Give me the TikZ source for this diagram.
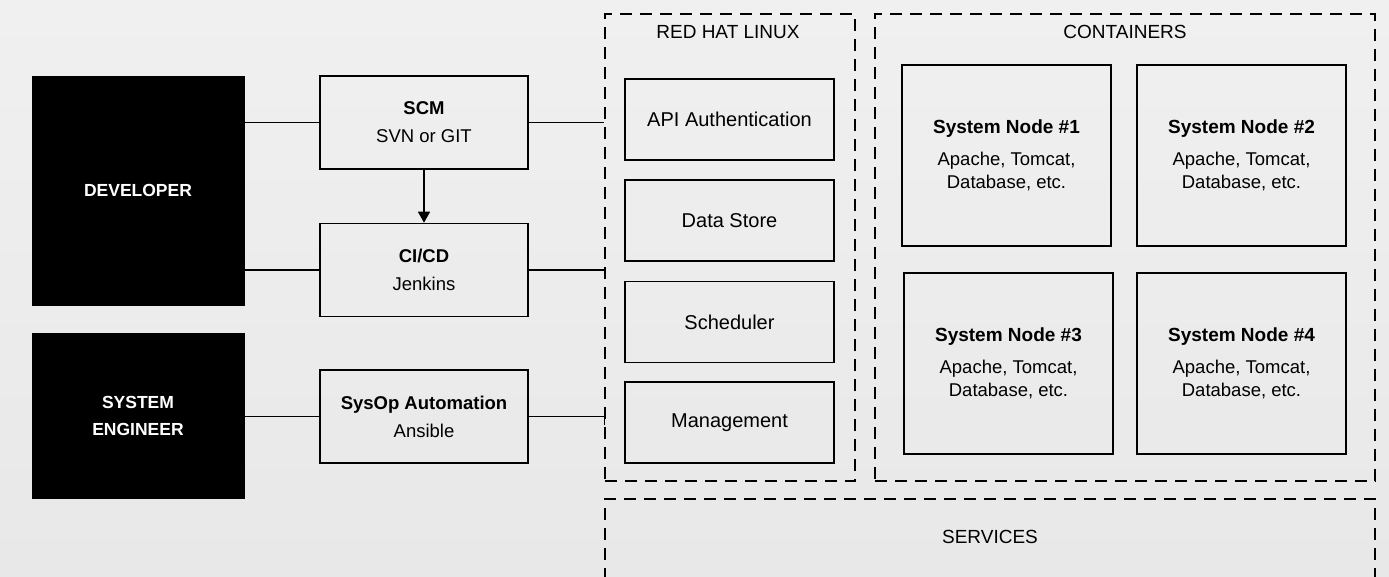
\documentclass[tikz,border=0pt]{standalone}
\usepackage{fontspec}
\setmainfont{Liberation Sans}
\usetikzlibrary{arrows.meta}
\definecolor{bgtop}{RGB}{240,240,240}
\definecolor{bgbot}{RGB}{232,232,232}
\tikzset{
  blackbox/.style={draw=black, fill=black, text=white, font=\fontsize{17.5}{27}\selectfont\bfseries, align=center, inner sep=0pt},
  toolbox/.style={draw=black, line width=1.6pt, align=center, inner sep=0pt, minimum width=208pt, minimum height=93pt, font=\fontsize{18.5}{28}\selectfont},
  svcbox/.style={draw=black, line width=1.6pt, align=center, inner sep=0pt, minimum width=209pt, minimum height=81pt, font=\fontsize{20}{23}\selectfont},
  nodebox/.style={draw=black, line width=1.6pt, align=center, inner sep=0pt, minimum width=209pt, minimum height=181pt, font=\fontsize{18.5}{23}\selectfont},
  ntitle/.style={},
  groupbox/.style={draw=black, line width=1.6pt, dash pattern=on 12pt off 8pt},
  grouplabel/.style={font=\fontsize{19}{22}\selectfont, inner sep=0pt},
  link/.style={draw=black, line width=1.3pt},
  flow/.style={link, -{Triangle[length=11pt,width=12pt]}}
}
\newcommand{\sntitle}[1]{{\fontsize{19}{23}\selectfont\bfseries #1}}
\begin{document}
\begin{tikzpicture}[x=1pt, y=-1pt]
\useasboundingbox (0,0) rectangle (1389,576);
\shade[top color=bgtop, bottom color=bgbot] (0,0) rectangle (1389,576);

% left actors
\node[blackbox, minimum width=212pt, minimum height=229pt] (dev) at (138,190.5) {DEVELOPER};
\node[blackbox, minimum width=212pt, minimum height=165pt] (eng) at (138,415.5) {SYSTEM\\ENGINEER};

% tools
\node[toolbox] (scm) at (424,122.5) {\textbf{SCM}\\SVN or GIT};
\node[toolbox] (cicd) at (424,270) {\textbf{CI/CD}\\Jenkins};
\node[toolbox] (sysop) at (424,416.5) {\textbf{SysOp Automation}\\Ansible};

% group boxes
\node[groupbox, minimum width=250pt, minimum height=467pt, inner sep=0pt] (rhl) at (730,247.5) {};
\node[groupbox, minimum width=500pt, minimum height=467pt, inner sep=0pt] (cont) at (1125,247.5) {};
\draw[groupbox] (605,620) -- (605,499) -- (1375,499) -- (1375,620);
\coordinate (svc) at (990,537);
\node[grouplabel] (rhllab) at (728,32) {RED HAT LINUX};
\node[grouplabel] (contlab) at (1125,32) {CONTAINERS};
\node[grouplabel] (svclab) at (svc) {SERVICES};

% red hat services
\node[svcbox] (api) at (729.5,119.5) {API Authentication};
\node[svcbox] (data) at (729.5,220.5) {Data Store};
\node[svcbox] (sched) at (729.5,322) {Scheduler};
\node[svcbox] (mgmt) at (729.5,422.5) {Management};

% system nodes
\node[nodebox] (sn1) at (1006.5,155.5) {\sntitle{System Node \#1}\\[9pt]Apache, Tomcat,\\Database, etc.};
\node[nodebox] (sn2) at (1241.5,155.5) {\sntitle{System Node \#2}\\[9pt]Apache, Tomcat,\\Database, etc.};
\node[nodebox] (sn3) at (1008.5,363.5) {\sntitle{System Node \#3}\\[9pt]Apache, Tomcat,\\Database, etc.};
\node[nodebox] (sn4) at (1241.5,363.5) {\sntitle{System Node \#4}\\[9pt]Apache, Tomcat,\\Database, etc.};

% connectors
\draw[link] (dev.east |- scm.west) -- (scm.west);
\draw[link] (dev.east |- cicd.west) -- (cicd.west);
\draw[link] (eng.east |- sysop.west) -- (sysop.west);
\draw[link] (scm.east) -- (scm.east -| rhl.west);
\draw[link] (cicd.east) -- (cicd.east -| rhl.west);
\draw[link] (sysop.east) -- (sysop.east -| rhl.west);
\draw[link] ([yshift=-8pt]sysop.east -| rhl.west) -- ([yshift=8pt]sysop.east -| rhl.west);
\draw[flow] (scm.south) -- (cicd.north);
\end{tikzpicture}
\end{document}
